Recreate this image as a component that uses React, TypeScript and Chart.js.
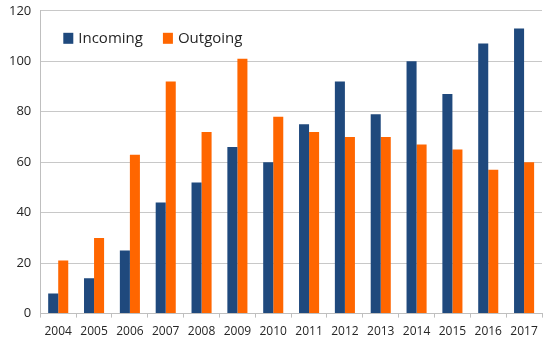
import React, { useEffect, useRef } from "react";
import { Chart, registerables } from "chart.js";

Chart.register(...registerables);

const years = ["2004", "2005", "2006", "2007", "2008", "2009", "2010", "2011", "2012", "2013", "2014", "2015", "2016", "2017"];
const incoming = [8, 14, 25, 44, 52, 66, 60, 75, 92, 79, 100, 87, 107, 113];
const outgoing = [21, 30, 63, 92, 72, 101, 78, 72, 70, 70, 67, 65, 57, 60];

const insideLegend = {
  id: "insideLegend",
  afterDraw(chart: any) {
    const ctx = chart.ctx;
    const area = chart.chartArea;
    let x = area.left + 23;
    const y = area.top + 28;
    ctx.save();
    ctx.font = "15px 'Open Sans'";
    ctx.textBaseline = "middle";
    ctx.textAlign = "left";
    chart.data.datasets.forEach((ds: any) => {
      ctx.fillStyle = ds.backgroundColor;
      ctx.fillRect(x, y - 6, 10, 11);
      ctx.fillStyle = "#262626";
      ctx.fillText(ds.label, x + 15, y);
      x += 15 + ctx.measureText(ds.label).width + 20;
    });
    ctx.restore();
  },
};

export default function App() {
  const ref = useRef<HTMLCanvasElement | null>(null);
  useEffect(() => {
    if (!ref.current) return;
    const chart = new Chart(ref.current, {
      type: "bar",
      data: {
        labels: years,
        datasets: [
          { label: "Incoming", data: incoming, backgroundColor: "#1F497D" },
          { label: "Outgoing", data: outgoing, backgroundColor: "#FF6600" },
        ],
      },
      plugins: [insideLegend],
      options: {
        responsive: false,
        animation: false,
        datasets: { bar: { categoryPercentage: 0.56, barPercentage: 1 } },
        layout: { padding: { left: 0, right: 8, top: -5, bottom: 1 } },
        plugins: {
          tooltip: { enabled: false },
          legend: { display: false },
        },
        scales: {
          x: {
            grid: { offset: true, drawOnChartArea: false, drawTicks: true, tickLength: 4, color: "#bfbfbf" },
            border: { color: "#bfbfbf" },
            ticks: { color: "#262626", font: { family: "'Open Sans'", size: 12 }, padding: 7, maxRotation: 0 },
          },
          y: {
            min: 0,
            max: 120,
            grid: { color: "#c8c8c8", drawTicks: false },
            border: { color: "#bfbfbf" },
            ticks: { stepSize: 20, color: "#262626", font: { family: "'Open Sans'", size: 13 }, padding: 9 },
          },
        },
      },
    });
    return () => chart.destroy();
  }, []);
  return (
    <div style={{ position: "absolute", left: 0, top: 0, width: 550, height: 343, overflow: "hidden", background: "#fff" }}>
      <canvas ref={ref} width={550} height={353} style={{ position: "absolute", left: 0, top: -6 }} />
    </div>
  );
}
